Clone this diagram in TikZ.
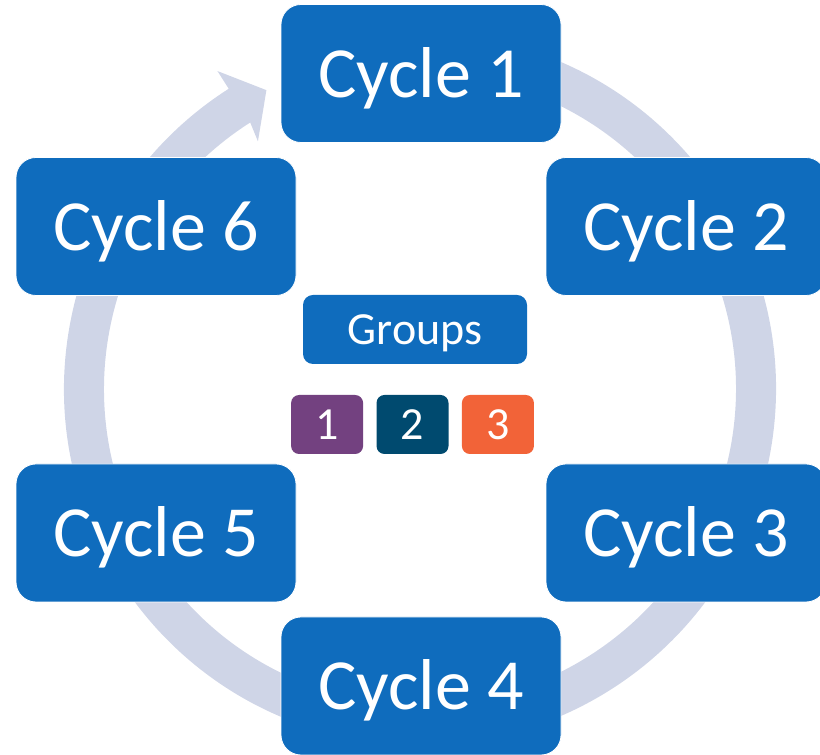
\documentclass[tikz,border=0pt]{standalone}
\usepackage{fontspec}
\setmainfont{Carlito}
\usetikzlibrary{positioning}

\definecolor{cycleblue}{RGB}{15,108,189}
\definecolor{ringgrey}{RGB}{207,213,231}
\definecolor{grpone}{RGB}{115,65,128}
\definecolor{grptwo}{RGB}{0,74,111}
\definecolor{grpthree}{RGB}{242,99,56}

\tikzset{
  cyclebox/.style={rectangle, rounded corners=20pt, fill=cycleblue, draw=white, line width=0.8pt,
    minimum width=280pt, minimum height=138pt, text=white, inner sep=0pt,
    font=\fontsize{72}{80}\selectfont, text height=48pt, text depth=0pt},
  groupbox/.style={rectangle, rounded corners=10pt, fill=cycleblue, minimum width=224pt,
    minimum height=69pt, text=white, inner sep=0pt,
    font=\fontsize{46}{52}\selectfont, text height=30pt, text depth=0pt},
  numbox/.style={rectangle, rounded corners=8pt, minimum width=72pt, minimum height=59pt,
    text=white, inner sep=0pt, font=\fontsize{46}{52}\selectfont, text height=30pt, text depth=0pt},
}

\begin{document}
\begin{tikzpicture}[x=1pt,y=1pt]
\clip (0,0) rectangle (820,755);

%Shape: Circular Arrow
\begin{scope}[shift={(420,366)}]
\fill[ringgrey] (80:356) arc[start angle=80, end angle=-237.5, radius=356]
  -- (-237.5:377) -- (-242.8:336) -- (-236.8:296) -- (-237.5:316)
  arc[start angle=-237.5, end angle=80, radius=316] -- cycle;
\end{scope}

% Cycle Nodes
\node[cyclebox] (c1) at (421,681.5) {Cycle 1};
\node[cyclebox] (c2) at (686,528.5) {Cycle 2};
\node[cyclebox] (c3) at (686,222) {Cycle 3};
\node[cyclebox] (c4) at (421,69) {Cycle 4};
\node[cyclebox] (c5) at (156,222) {Cycle 5};
\node[cyclebox] (c6) at (156,528.5) {Cycle 6};

% Groups
\node[groupbox] (groups) at (415,425.5) {Groups};
\node[numbox, fill=grptwo] (g2) at (412.5,330.5) {2};
\node[numbox, fill=grpone, left=13pt of g2] (g1) {1};
\node[numbox, fill=grpthree, right=13pt of g2] (g3) {3};

\end{tikzpicture}
\end{document}
